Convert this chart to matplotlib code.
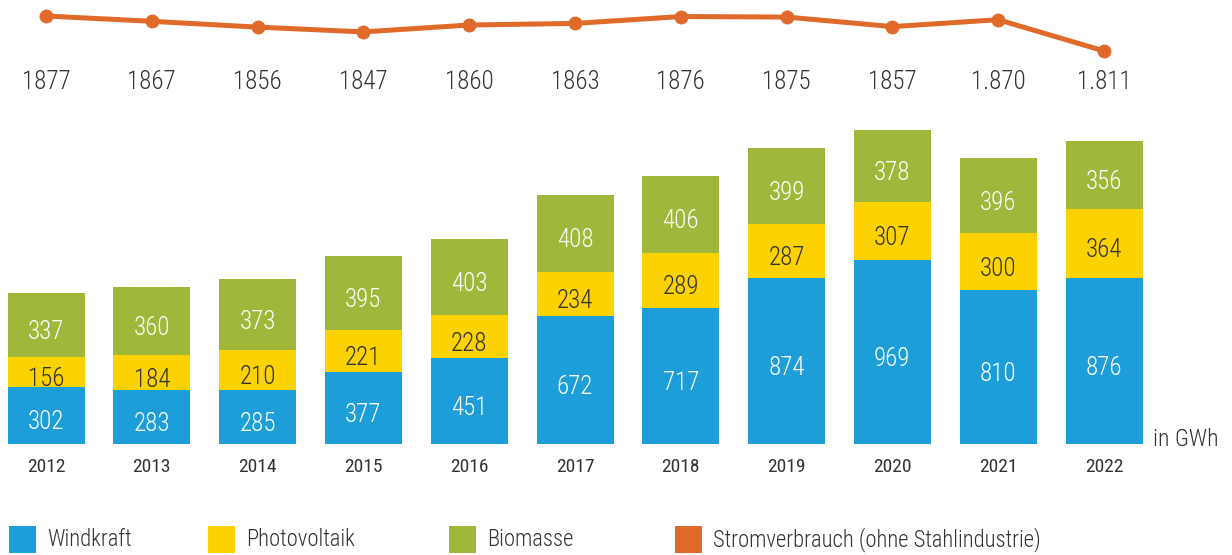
import matplotlib
matplotlib.use("Agg")
import matplotlib.pyplot as plt
import matplotlib.patches as mpatches
from matplotlib.transforms import blended_transform_factory
import numpy as np

years = ["2012", "2013", "2014", "2015", "2016", "2017", "2018", "2019", "2020", "2021", "2022"]
wind = [302, 283, 285, 377, 451, 672, 717, 874, 969, 810, 876]
solar = [156, 184, 210, 221, 228, 234, 289, 287, 307, 300, 364]
biomass = [337, 360, 373, 395, 403, 408, 406, 399, 378, 396, 356]
consumption = [1877, 1867, 1856, 1847, 1860, 1863, 1876, 1875, 1857, 1870, 1811]
consumption_labels = ["1877", "1867", "1856", "1847", "1860", "1863", "1876", "1875", "1857", "1.870", "1.811"]

C_WIND = "#1E9ED8"
C_SOLAR = "#FCD200"
C_BIO = "#9FB73B"
C_LINE = "#E06A2A"
C_TEXT = "#333333"

plt.rcParams["font.family"] = ["Roboto Condensed", "Roboto", "DejaVu Sans"]
plt.rcParams["font.weight"] = "light"

W, H = 1232, 555
fig = plt.figure(figsize=(W / 100, H / 100), dpi=100)

x = np.arange(len(years))
x0_px, step_px = 46, 105.8
xlim = (-x0_px / step_px, (W - x0_px) / step_px)

# bar axes: baseline at 444 px from top, ~0.19 px per GWh
base_px = 444
scale = 0.1898
ax = fig.add_axes([0, (H - base_px) / H, 1, base_px / H])
ax.set_xlim(*xlim)
ax.set_ylim(0, base_px / scale)
ax.set_axis_off()

bw = 77 / step_px
bottoms = np.zeros(len(years))
for vals, col, tcol in [(wind, C_WIND, "white"), (solar, C_SOLAR, C_TEXT), (biomass, C_BIO, "white")]:
    vals = np.array(vals)
    ax.bar(x, vals, width=bw, bottom=bottoms, color=col, linewidth=0)
    for xi, b, v in zip(x, bottoms, vals):
        ax.annotate(str(v), (xi, b + v / 2), xytext=(0, -5), textcoords="offset points",
                    ha="center", va="center", color=tcol, fontsize=18)
    bottoms = bottoms + vals

# line axes: top band of figure
top_h = 110
lscale = 0.53
ax2 = fig.add_axes([0, (H - top_h) / H, 1, top_h / H])
ax2.set_xlim(*xlim)
ax2.set_ylim(1877 - (top_h - 16) / lscale, 1877 + 16 / lscale)
ax2.set_axis_off()
ax2.plot(x, consumption, color=C_LINE, lw=3.6, marker="o", ms=9, solid_capstyle="round")

tr = blended_transform_factory(ax.transData, fig.transFigure)
for xi, lab in zip(x, consumption_labels):
    fig.text(xi, 1 - 82 / H, lab, transform=tr, ha="center", va="center", color=C_TEXT, fontsize=18)
for xi, yr in zip(x, years):
    fig.text(xi, 1 - 467 / H, yr, transform=tr, ha="center", va="center", color=C_TEXT,
             fontsize=14, fontweight="normal")

fig.text(1153 / W, 1 - 439 / H, "in GWh", ha="left", va="center", color=C_TEXT, fontsize=17)

# legend
legend_items = [("Windkraft", C_WIND, 9), ("Photovoltaik", C_SOLAR, 208),
                ("Biomasse", C_BIO, 449), ("Stromverbrauch (ohne Stahlindustrie)", C_LINE, 675)]
for label, col, lx in legend_items:
    fig.patches.append(mpatches.Rectangle((lx / W, 1 - 553 / H), 27 / W, 27 / H,
                                          transform=fig.transFigure, facecolor=col, edgecolor="none"))
    fig.text((lx + 38) / W, 1 - 540 / H, label, ha="left", va="center", color=C_TEXT, fontsize=16.3)

fig.savefig("out.png", dpi=100, facecolor="white")
